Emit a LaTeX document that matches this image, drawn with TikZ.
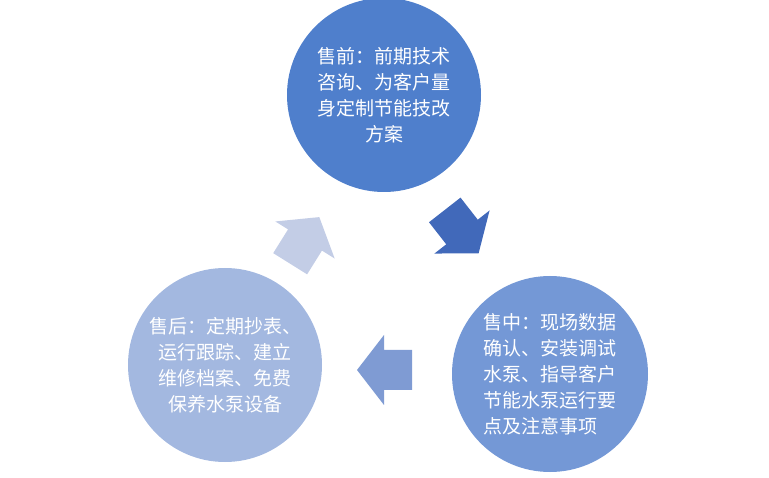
\documentclass[tikz,border=0pt]{standalone}
\usepackage{fontspec}
\setmainfont{Noto Sans CJK SC}
\begin{document}
\begin{tikzpicture}[x=1pt,y=1pt,
  circ/.style={circle,minimum size=194pt,inner sep=0pt,text=white,align=center,font=\fontsize{19}{26}\selectfont},
  blk/.style={fill=#1,draw=none}]
\definecolor{cA}{HTML}{4F7FCC}
\definecolor{cB}{HTML}{7498D6}
\definecolor{cC}{HTML}{A3B8E0}
\definecolor{aA}{HTML}{4169BA}
\definecolor{aB}{HTML}{7F9BD3}
\definecolor{aC}{HTML}{C3CDE6}
\useasboundingbox (0,0) rectangle (769,-478);
\node[circ,fill=cA] (pre) at (384,-95) {售前：前期技术\\咨询、为客户量\\身定制节能技改\\方案};
\node[circ,fill=cB,minimum size=196pt,align=left] (mid) at (550,-374) {售中：现场数据\\确认、安装调试\\水泵、指导客户\\节能水泵运行要\\点及注意事项};
\node[circ,fill=cC] (post) at (225,-365) {售后：定期抄表、\\运行跟踪、建立\\维修档案、免费\\保养水泵设备};
\newcommand{\blockarrow}[4]{\begin{scope}[shift={(#1,#2)},rotate=#3]
  \fill[#4] (-28,-20) -- (0,-20) -- (0,-35) -- (27,0) -- (0,35) -- (0,20) -- (-28,20) -- cycle;
\end{scope}}
\blockarrow{462}{-232}{-52}{aA}
\blockarrow{384}{-370}{180}{aB}
\blockarrow{305}{-240}{58}{aC}
\end{tikzpicture}
\end{document}
